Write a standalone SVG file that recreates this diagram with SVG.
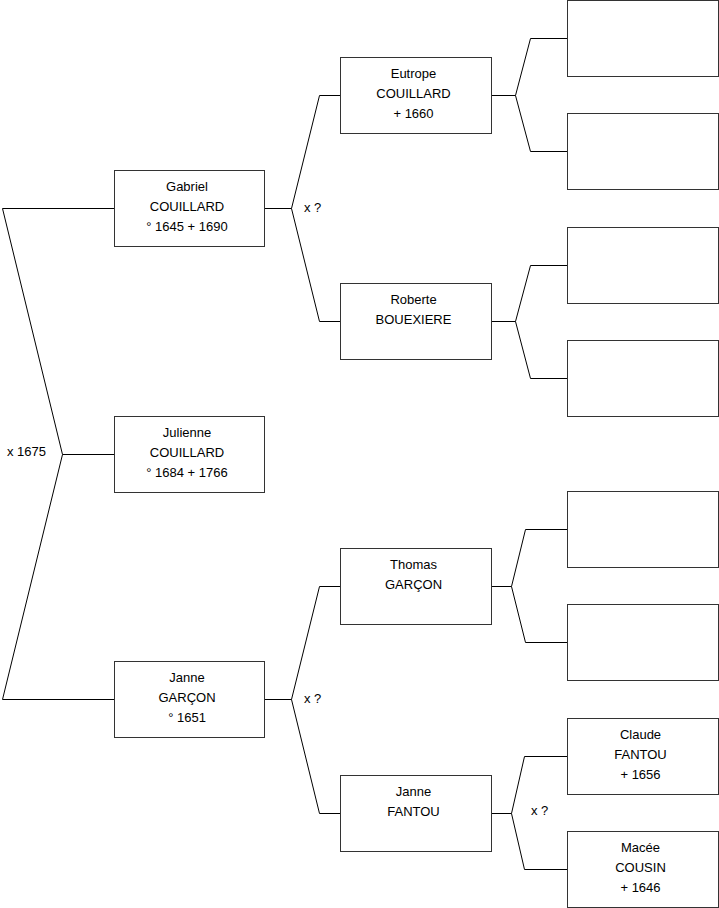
<svg xmlns="http://www.w3.org/2000/svg" width="719" height="908" viewBox="0 0 719 908">
<style>
.box{fill:#fff;stroke:#333;stroke-width:1}
.ln{fill:none;stroke:#000;stroke-width:1}
text{font-family:"Liberation Sans",Arial,sans-serif;font-size:13px;fill:#000}
.c{text-anchor:middle}
</style>
<rect width="719" height="908" fill="#fff"/>
<g id="connectors">
<polyline class="ln" points="2.5,208.5 114,208.5"/>
<polyline class="ln" points="2.5,208.5 62.5,454.5 2.5,699.5 114,699.5"/>
<polyline class="ln" points="62.5,454.5 114,454.5"/>
<polyline class="ln" points="265,208.5 291.5,208.5"/>
<polyline class="ln" points="340,95.5 319.5,95.5 291.5,208.5 319.5,321.5 340,321.5"/>
<polyline class="ln" points="265,699.5 291.5,699.5"/>
<polyline class="ln" points="340,586.5 319.5,586.5 291.5,699.5 319.5,813.5 340,813.5"/>
<polyline class="ln" points="491,95.5 515.5,95.5"/>
<polyline class="ln" points="567,38.5 530.5,38.5 515.5,95.5 530.5,151.5 567,151.5"/>
<polyline class="ln" points="491,321.5 515.5,321.5"/>
<polyline class="ln" points="567,265.5 530.5,265.5 515.5,321.5 530.5,378.5 567,378.5"/>
<polyline class="ln" points="491,586.5 511.5,586.5"/>
<polyline class="ln" points="567,529.5 525.5,529.5 511.5,586.5 525.5,642.5 567,642.5"/>
<polyline class="ln" points="491,813.5 511.5,813.5"/>
<polyline class="ln" points="567,756.5 524.5,756.5 511.5,813.5 524.5,869.5 567,869.5"/>
<text x="7" y="456">x 1675</text>
<text x="304" y="212">x ?</text>
<text x="304" y="703">x ?</text>
<text x="531" y="815">x ?</text>
</g>
<g id="gabriel"><rect class="box" x="114.5" y="170.5" width="150" height="76"/>
<text class="c" x="187" y="191">Gabriel</text><text class="c" x="187" y="211">COUILLARD</text><text class="c" x="187" y="231">° 1645 + 1690</text></g>
<g id="julienne"><rect class="box" x="114.5" y="416.5" width="150" height="76"/>
<text class="c" x="187" y="437">Julienne</text><text class="c" x="187" y="457">COUILLARD</text><text class="c" x="187" y="477">° 1684 + 1766</text></g>
<g id="janne-garcon"><rect class="box" x="114.5" y="661.5" width="150" height="76"/>
<text class="c" x="187" y="682">Janne</text><text class="c" x="187" y="702">GARÇON</text><text class="c" x="187" y="722">° 1651</text></g>
<g id="eutrope"><rect class="box" x="340.5" y="57.5" width="151" height="76"/>
<text class="c" x="413.5" y="78">Eutrope</text><text class="c" x="413.5" y="98">COUILLARD</text><text class="c" x="413.5" y="118">+ 1660</text></g>
<g id="roberte"><rect class="box" x="340.5" y="283.5" width="151" height="76"/>
<text class="c" x="413.5" y="304">Roberte</text><text class="c" x="413.5" y="324">BOUEXIERE</text></g>
<g id="thomas"><rect class="box" x="340.5" y="548.5" width="151" height="76"/>
<text class="c" x="413.5" y="569">Thomas</text><text class="c" x="413.5" y="589">GARÇON</text></g>
<g id="janne-fantou"><rect class="box" x="340.5" y="775.5" width="151" height="76"/>
<text class="c" x="413.5" y="796">Janne</text><text class="c" x="413.5" y="816">FANTOU</text></g>
<g id="p1"><rect class="box" x="567.5" y="0.5" width="151" height="76"/></g>
<g id="p2"><rect class="box" x="567.5" y="113.5" width="151" height="76"/></g>
<g id="p3"><rect class="box" x="567.5" y="227.5" width="151" height="76"/></g>
<g id="p4"><rect class="box" x="567.5" y="340.5" width="151" height="76"/></g>
<g id="p5"><rect class="box" x="567.5" y="491.5" width="151" height="76"/></g>
<g id="p6"><rect class="box" x="567.5" y="604.5" width="151" height="76"/></g>
<g id="claude"><rect class="box" x="567.5" y="718.5" width="151" height="76"/>
<text class="c" x="640.5" y="739">Claude</text><text class="c" x="640.5" y="759">FANTOU</text><text class="c" x="640.5" y="779">+ 1656</text></g>
<g id="macee"><rect class="box" x="567.5" y="831.5" width="151" height="76"/>
<text class="c" x="640.5" y="852">Macée</text><text class="c" x="640.5" y="872">COUSIN</text><text class="c" x="640.5" y="892">+ 1646</text></g>
</svg>
